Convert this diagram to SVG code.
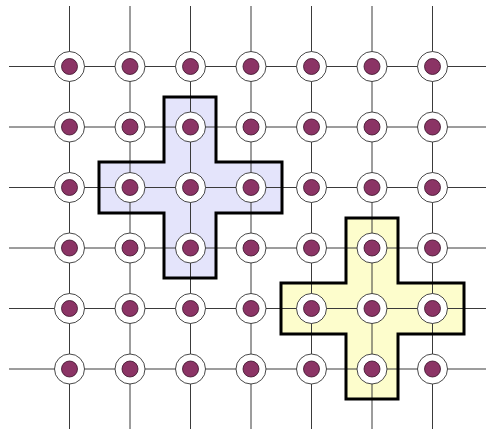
<svg xmlns="http://www.w3.org/2000/svg" width="486" height="429" viewBox="0 0 486 429">
<defs>
<style>
.ln{stroke:#3a3a3a;stroke-width:1;fill:none}
.ring{fill:#fff;stroke:#333;stroke-width:0.9}
.dot{fill:#8b3465;stroke:#3a1028;stroke-width:0.8}
.crossfill{stroke:none}
.crossline{fill:none;stroke:#000;stroke-width:3;stroke-linejoin:miter}
</style>
<g id="node">
<circle class="ring" r="15"/>
<circle class="dot" r="8"/>
</g>
</defs>
<rect width="486" height="429" fill="#fff"/>
<path id="blue-fill" class="crossfill" fill="#e4e4fb" d="M164,97 H216 V162 H282 V213 H216 V278 H164 V213 H99 V162 H164 Z"/>
<path id="yellow-fill" class="crossfill" fill="#fdfdcc" d="M346,218 H398 V283 H464 V334 H398 V399 H346 V334 H281 V283 H346 Z"/>
<g id="connectors">
<line class="ln" x1="69.5" y1="6" x2="69.5" y2="429"/>
<line class="ln" x1="130" y1="6" x2="130" y2="429"/>
<line class="ln" x1="190.5" y1="6" x2="190.5" y2="429"/>
<line class="ln" x1="251" y1="6" x2="251" y2="429"/>
<line class="ln" x1="311.5" y1="6" x2="311.5" y2="429"/>
<line class="ln" x1="372" y1="6" x2="372" y2="429"/>
<line class="ln" x1="432.5" y1="6" x2="432.5" y2="429"/>
<line class="ln" x1="9" y1="66.5" x2="486" y2="66.5"/>
<line class="ln" x1="9" y1="127" x2="486" y2="127"/>
<line class="ln" x1="9" y1="187.5" x2="486" y2="187.5"/>
<line class="ln" x1="9" y1="248" x2="486" y2="248"/>
<line class="ln" x1="9" y1="308.5" x2="486" y2="308.5"/>
<line class="ln" x1="9" y1="369" x2="486" y2="369"/>
</g>
<path id="blue-cross" class="crossline" d="M164,97 H216 V162 H282 V213 H216 V278 H164 V213 H99 V162 H164 Z"/>
<path id="yellow-cross" class="crossline" d="M346,218 H398 V283 H464 V334 H398 V399 H346 V334 H281 V283 H346 Z"/>
<g id="nodes">
<g id="n-0-0"><use href="#node" x="69.5" y="66.5"/></g>
<g id="n-1-0"><use href="#node" x="130" y="66.5"/></g>
<g id="n-2-0"><use href="#node" x="190.5" y="66.5"/></g>
<g id="n-3-0"><use href="#node" x="251" y="66.5"/></g>
<g id="n-4-0"><use href="#node" x="311.5" y="66.5"/></g>
<g id="n-5-0"><use href="#node" x="372" y="66.5"/></g>
<g id="n-6-0"><use href="#node" x="432.5" y="66.5"/></g>
<g id="n-0-1"><use href="#node" x="69.5" y="127"/></g>
<g id="n-1-1"><use href="#node" x="130" y="127"/></g>
<g id="n-2-1"><use href="#node" x="190.5" y="127"/></g>
<g id="n-3-1"><use href="#node" x="251" y="127"/></g>
<g id="n-4-1"><use href="#node" x="311.5" y="127"/></g>
<g id="n-5-1"><use href="#node" x="372" y="127"/></g>
<g id="n-6-1"><use href="#node" x="432.5" y="127"/></g>
<g id="n-0-2"><use href="#node" x="69.5" y="187.5"/></g>
<g id="n-1-2"><use href="#node" x="130" y="187.5"/></g>
<g id="n-2-2"><use href="#node" x="190.5" y="187.5"/></g>
<g id="n-3-2"><use href="#node" x="251" y="187.5"/></g>
<g id="n-4-2"><use href="#node" x="311.5" y="187.5"/></g>
<g id="n-5-2"><use href="#node" x="372" y="187.5"/></g>
<g id="n-6-2"><use href="#node" x="432.5" y="187.5"/></g>
<g id="n-0-3"><use href="#node" x="69.5" y="248"/></g>
<g id="n-1-3"><use href="#node" x="130" y="248"/></g>
<g id="n-2-3"><use href="#node" x="190.5" y="248"/></g>
<g id="n-3-3"><use href="#node" x="251" y="248"/></g>
<g id="n-4-3"><use href="#node" x="311.5" y="248"/></g>
<g id="n-5-3"><use href="#node" x="372" y="248"/></g>
<g id="n-6-3"><use href="#node" x="432.5" y="248"/></g>
<g id="n-0-4"><use href="#node" x="69.5" y="308.5"/></g>
<g id="n-1-4"><use href="#node" x="130" y="308.5"/></g>
<g id="n-2-4"><use href="#node" x="190.5" y="308.5"/></g>
<g id="n-3-4"><use href="#node" x="251" y="308.5"/></g>
<g id="n-4-4"><use href="#node" x="311.5" y="308.5"/></g>
<g id="n-5-4"><use href="#node" x="372" y="308.5"/></g>
<g id="n-6-4"><use href="#node" x="432.5" y="308.5"/></g>
<g id="n-0-5"><use href="#node" x="69.5" y="369"/></g>
<g id="n-1-5"><use href="#node" x="130" y="369"/></g>
<g id="n-2-5"><use href="#node" x="190.5" y="369"/></g>
<g id="n-3-5"><use href="#node" x="251" y="369"/></g>
<g id="n-4-5"><use href="#node" x="311.5" y="369"/></g>
<g id="n-5-5"><use href="#node" x="372" y="369"/></g>
<g id="n-6-5"><use href="#node" x="432.5" y="369"/></g>
</g>
</svg>
